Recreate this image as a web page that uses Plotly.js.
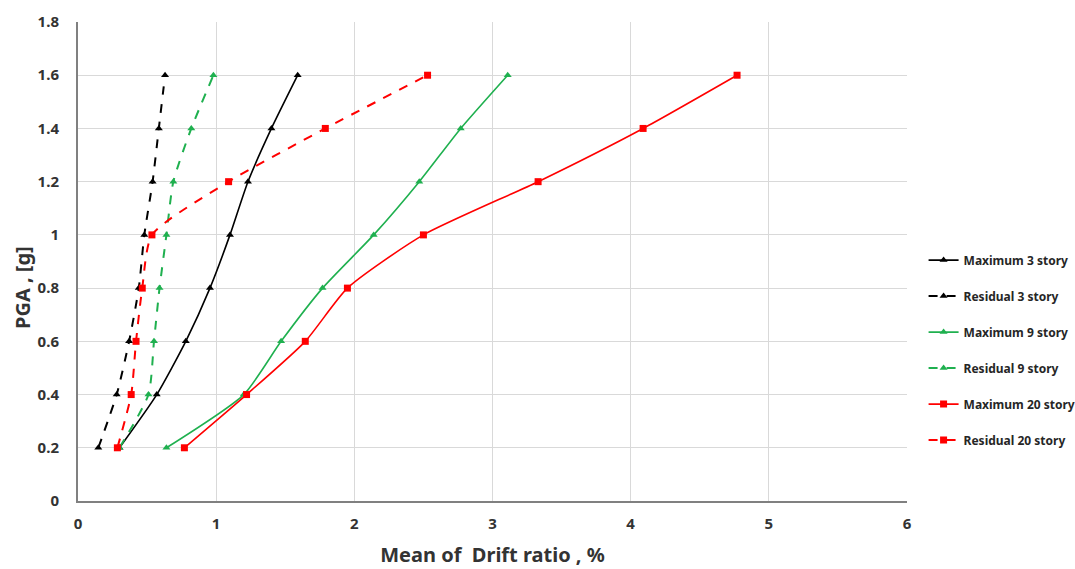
<!DOCTYPE html>
<html>
<head>
<meta charset="utf-8">
<script src="https://cdn.plot.ly/plotly-3.0.1.min.js"></script>
<style>html,body{margin:0;padding:0;background:#fff;}#chart{width:1075px;height:569px;}</style>
</head>
<body>
<div id="chart"></div>
<script>
const pga = [0.2, 0.4, 0.6, 0.8, 1.0, 1.2, 1.4, 1.6];
const max3 = [0.30, 0.57, 0.78, 0.955, 1.10, 1.23, 1.40, 1.59];
const res3 = [0.147, 0.28, 0.37, 0.44, 0.48, 0.54, 0.585, 0.63];
const max9 = [0.64, 1.20, 1.47, 1.77, 2.14, 2.47, 2.77, 3.11];
const res9 = [0.30, 0.51, 0.55, 0.59, 0.64, 0.69, 0.82, 0.98];
const max20 = [0.77, 1.22, 1.645, 1.95, 2.50, 3.33, 4.09, 4.77];
const res20 = [0.285, 0.385, 0.42, 0.465, 0.535, 1.09, 1.79, 2.53];

const names = ["Maximum 3 story", "Residual 3 story", "Maximum 9 story", "Residual 9 story", "Maximum 20 story", "Residual 20 story"];
const xs = [max3, res3, max9, res9, max20, res20];
const colors = ["#000000", "#000000", "#1fb04f", "#1fb04f", "#ff0000", "#ff0000"];
const dashes = ["solid", "dash", "solid", "dash", "solid", "dash"];
const symbols = ["triangle-up", "triangle-up", "triangle-up", "triangle-up", "square", "square"];
const msizes = [7, 7, 7, 7, 7, 7];

const traces = names.map((n, i) => ({
  x: xs[i], y: pga, name: n, type: "scatter", mode: "lines+markers",
  legendgroup: "g" + i,
  line: {color: colors[i], width: dashes[i] === "dash" ? 2 : 1.6, dash: dashes[i], shape: "spline", smoothing: 0.6},
  marker: {symbol: symbols[i], size: msizes[i], color: colors[i]}
}));

const FONT = "'Noto Sans', 'Open Sans', sans-serif";
const layout = {
  width: 1075, height: 569,
  margin: {l: 78, r: 168, t: 22, b: 68, autoexpand: false},
  paper_bgcolor: "#fff", plot_bgcolor: "#fff",
  font: {family: FONT, color: "#404040"},
  xaxis: {
    range: [0, 6], dtick: 1, tick0: 0,
    showgrid: true, gridcolor: "#d9d9d9", gridwidth: 1,
    zeroline: false, showline: true, linecolor: "#808080", linewidth: 2,
    mirror: false, ticks: "", ticklabelstandoff: 8,
    tickfont: {size: 15, family: FONT, weight: 700, color: "#333333"},
    title: {text: "Mean of\u00a0 Drift ratio , %", font: {size: 20, family: FONT, weight: 700, color: "#333333"}, standoff: 16}
  },
  yaxis: {
    range: [0, 1.8], dtick: 0.2, tick0: 0,
    showgrid: true, gridcolor: "#d9d9d9", gridwidth: 1,
    zeroline: false, showline: true, linecolor: "#808080", linewidth: 2,
    ticks: "", ticklabelstandoff: 14,
    tickfont: {size: 15, family: FONT, weight: 700, color: "#333333"}
  },
  annotations: [{
    text: "PGA , [g]", textangle: -90, showarrow: false,
    xref: "paper", yref: "paper", x: (22 - 78) / 829, y: (501 - 288) / 479,
    xanchor: "center", yanchor: "middle",
    font: {size: 20, family: FONT, weight: 700, color: "#333333"}
  }],
  legend: {
    x: 1.02, xanchor: "left", y: 0.315, yanchor: "middle",
    font: {size: 12, family: FONT, weight: 700, color: "#262626"},
    tracegroupgap: 17, bgcolor: "rgba(0,0,0,0)"
  },
  showlegend: true
};

Plotly.newPlot("chart", traces, layout, {displayModeBar: false, staticPlot: true});
</script>
</body>
</html>
